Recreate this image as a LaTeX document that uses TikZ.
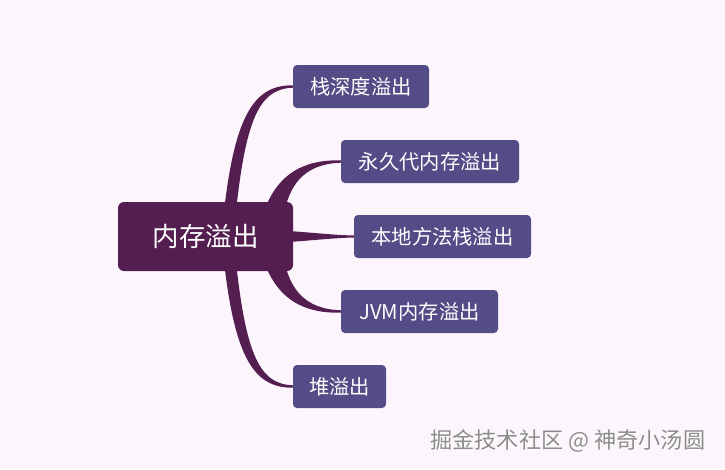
\documentclass[tikz,border=0pt]{standalone}
\usepackage{fontspec}
\setmainfont{Noto Sans CJK SC}
\usetikzlibrary{calc,backgrounds}
\definecolor{bgc}{RGB}{252,246,252}
\definecolor{rootc}{RGB}{84,30,80}
\definecolor{childc}{RGB}{84,76,134}
\definecolor{wmc}{RGB}{140,140,140}
\begin{document}
\begin{tikzpicture}[x=1pt,y=-1pt,
  rootbox/.style={fill=rootc,text=white,rounded corners=6pt,minimum width=175pt,minimum height=69pt,inner sep=0pt,font=\fontsize{26.5}{30}\selectfont},
  childbox/.style={fill=childc,text=white,rounded corners=4pt,minimum height=43pt,inner sep=0pt,font=\fontsize{20.3}{24}\selectfont},
  branch/.style={fill=rootc},
  wm/.style={font=\fontsize{22.2}{26}\selectfont,anchor=west,inner sep=0pt}]
\node[rootbox] (root) at (205.5,236.5) {内存溢出};
\node[childbox,minimum width=136pt] (c1) at (361,86.5) {栈深度溢出};
\node[childbox,minimum width=178pt] (c2) at (430,161.5) {永久代内存溢出};
\node[childbox,minimum width=177pt] (c3) at (442.5,236.5) {本地方法栈溢出};
\node[childbox,minimum width=157pt] (c4) at (419.5,311.5) {JVM内存溢出};
\node[childbox,minimum width=93pt] (c5) at (339.5,386.5) {堆溢出};
% watermark
\node[wm,text=white] (wms) at (431,442) {掘金技术社区 @ 神奇小汤圆};
\node[wm,text=wmc] (wmk) at (430,441) {掘金技术社区 @ 神奇小汤圆};
\begin{scope}[on background layer]
\fill[bgc] (0,0) rectangle (725,469);
\fill[branch] ($(root.center)+(16,0)$) .. controls (232,118) and (252,85) .. ($(c1.west)+(0,-1.2)$) -- ($(c1.west)+(0,1.2)$) .. controls (258,89) and (244,120) .. ($(root.center)+(28,0)$) -- cycle;
\fill[branch] ($(root.center)+(52,0)$) .. controls (268,178) and (298,159.5) .. ($(c2.west)+(0,-1.2)$) -- ($(c2.west)+(0,1.2)$) .. controls (306,164) and (284,182) .. ($(root.center)+(76,0)$) -- cycle;
\fill[branch] ($(root.center)+(60,-7)$) .. controls (310,232) and (330,235) .. ($(c3.west)+(0,-1)$) -- ($(c3.west)+(0,1)$) .. controls (330,238) and (310,241) .. ($(root.center)+(60,7)$) -- cycle;
\fill[branch] ($(root.center)+(52,0)$) .. controls (268,295) and (298,313.5) .. ($(c4.west)+(0,1.2)$) -- ($(c4.west)+(0,-1.2)$) .. controls (306,309) and (284,291) .. ($(root.center)+(76,0)$) -- cycle;
\fill[branch] ($(root.center)+(16,0)$) .. controls (232,355) and (252,388) .. ($(c5.west)+(0,1.2)$) -- ($(c5.west)+(0,-1.2)$) .. controls (258,384) and (244,353) .. ($(root.center)+(28,0)$) -- cycle;
\end{scope}
\useasboundingbox (0,0) rectangle (725,469);
\end{tikzpicture}
\end{document}
